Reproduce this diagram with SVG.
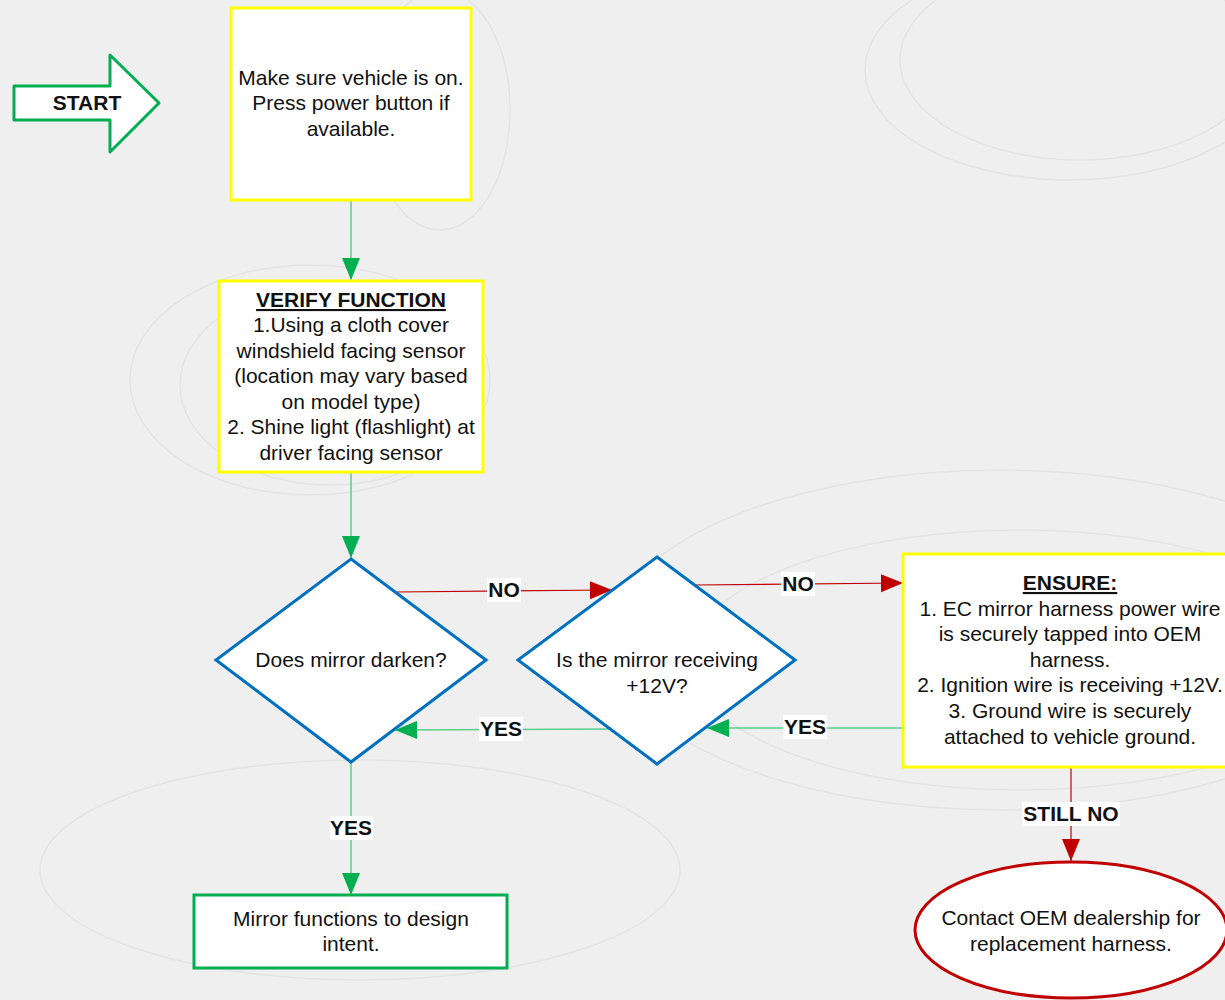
<svg xmlns="http://www.w3.org/2000/svg" width="1225" height="1000" viewBox="0 0 1225 1000">
<defs>
<style>
text{font-family:"Liberation Sans",Arial,sans-serif;font-size:21px;fill:#111;text-anchor:middle}
.b{font-weight:bold}
.u{text-decoration:underline}
.yel{fill:#fff;stroke:#ffff00;stroke-width:3}
.dia{fill:#fff;stroke:#0070c0;stroke-width:3}
.grn{fill:#fff;stroke:#00b050;stroke-width:3}
.red{fill:#fff;stroke:#c00000;stroke-width:3}
.cg{stroke:#5ccc8e;stroke-width:1.5;fill:none}
.cr{stroke:#c00000;stroke-width:1.2;fill:none}
.lb{fill:#fff}
.bg{fill:none;stroke:#e4e4e4;stroke-width:1.5}
</style>
<marker id="ar" markerWidth="24" markerHeight="24" refX="22" refY="12" orient="auto" markerUnits="userSpaceOnUse"><path d="M0,3 L22,12 L0,21 Z" fill="#c00000"/></marker>
<marker id="ag2" markerWidth="24" markerHeight="24" refX="22" refY="12" orient="auto" markerUnits="userSpaceOnUse"><path d="M0,3 L22,12 L0,21 Z" fill="#00b050"/></marker>
</defs>
<rect width="1225" height="1000" fill="#efefef"/>
<g id="background">
<ellipse class="bg" cx="1070" cy="70" rx="205" ry="110"/>
<ellipse class="bg" cx="1080" cy="60" rx="180" ry="100"/>
<ellipse class="bg" cx="310" cy="380" rx="180" ry="115"/>
<ellipse class="bg" cx="330" cy="385" rx="150" ry="100"/>
<ellipse class="bg" cx="1000" cy="640" rx="390" ry="170"/>
<ellipse class="bg" cx="1020" cy="660" rx="330" ry="130"/>
<ellipse class="bg" cx="360" cy="870" rx="320" ry="110"/>
<ellipse class="bg" cx="440" cy="110" rx="70" ry="120"/>
</g>
<g id="connectors">
<line class="cg" x1="351" y1="200" x2="351" y2="280" marker-end="url(#ag2)"/>
<line class="cg" x1="351" y1="472" x2="351" y2="558" marker-end="url(#ag2)"/>
<line class="cr" x1="396" y1="592" x2="612" y2="590" marker-end="url(#ar)"/>
<line class="cr" x1="694" y1="585" x2="903" y2="583" marker-end="url(#ar)"/>
<line class="cg" x1="903" y1="728" x2="707" y2="728" marker-end="url(#ag2)"/>
<line class="cg" x1="610" y1="729" x2="395" y2="730" marker-end="url(#ag2)"/>
<line class="cg" x1="351" y1="762" x2="351" y2="895" marker-end="url(#ag2)"/>
<line class="cr" x1="1071" y1="767" x2="1071" y2="861" marker-end="url(#ar)"/>
<rect class="lb" x="487" y="578" width="34" height="24"/><text class="b" x="504" y="597">NO</text>
<rect class="lb" x="781" y="572" width="34" height="24"/><text class="b" x="798" y="591">NO</text>
<rect class="lb" x="783" y="715" width="44" height="24"/><text class="b" x="805" y="734">YES</text>
<rect class="lb" x="479" y="717" width="44" height="24"/><text class="b" x="501" y="736">YES</text>
<rect class="lb" x="330" y="816" width="43" height="24"/><text class="b" x="351" y="835">YES</text>
<rect class="lb" x="1022" y="802" width="98" height="24"/><text class="b" x="1071" y="821">STILL NO</text>
</g>
<g id="start">
<path class="grn" d="M14,86 L110,86 L110,55 L159,103 L110,152 L110,120 L14,120 Z" stroke-linejoin="round"/>
<text class="b" x="87" y="110">START</text>
</g>
<g id="vehicle-on">
<rect class="yel" x="231" y="8" width="240" height="192"/>
<text x="351" y="85">Make sure vehicle is on.</text>
<text x="351" y="110">Press power button if</text>
<text x="351" y="136">available.</text>
</g>
<g id="verify-function">
<rect class="yel" x="219" y="281" width="264" height="191"/>
<text class="b u" x="351" y="307">VERIFY FUNCTION</text>
<text x="351" y="332">1.Using a cloth cover</text>
<text x="351" y="358">windshield facing sensor</text>
<text x="351" y="383">(location may vary based</text>
<text x="351" y="409">on model type)</text>
<text x="351" y="434">2. Shine light (flashlight) at</text>
<text x="351" y="460">driver facing sensor</text>
</g>
<g id="mirror-darken">
<path class="dia" d="M351,559 L486,660 L351,762 L216,660 Z"/>
<text x="351" y="667">Does mirror darken?</text>
</g>
<g id="receiving-12v">
<path class="dia" d="M657,557 L795,660 L657,764 L518,660 Z"/>
<text x="657" y="667">Is the mirror receiving</text>
<text x="657" y="693">+12V?</text>
</g>
<g id="ensure">
<rect class="yel" x="903" y="554" width="326" height="213"/>
<text class="b u" x="1070" y="590">ENSURE:</text>
<text x="1070" y="616">1. EC mirror harness power wire</text>
<text x="1070" y="641">is securely tapped into OEM</text>
<text x="1070" y="667">harness.</text>
<text x="1070" y="692">2. Ignition wire is receiving +12V.</text>
<text x="1070" y="718">3. Ground wire is securely</text>
<text x="1070" y="744">attached to vehicle ground.</text>
</g>
<g id="design-intent">
<rect class="grn" x="194" y="895" width="313" height="73"/>
<text x="351" y="926">Mirror functions to design</text>
<text x="351" y="951">intent.</text>
</g>
<g id="contact-oem">
<ellipse class="red" cx="1071" cy="930" rx="156" ry="68"/>
<text x="1071" y="925">Contact OEM dealership for</text>
<text x="1071" y="951">replacement harness.</text>
</g>
</svg>
